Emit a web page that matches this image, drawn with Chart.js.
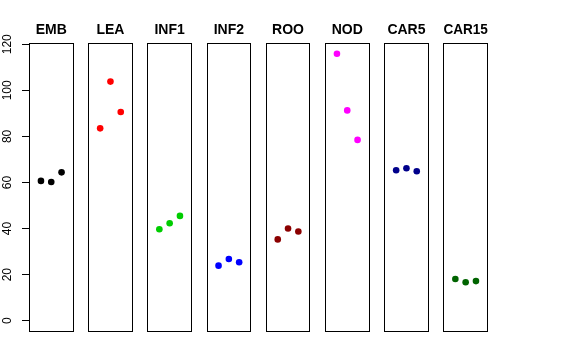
<!DOCTYPE html>
<html>
<head>
<meta charset="utf-8">
<script src="https://cdn.jsdelivr.net/npm/chart.js@4/dist/chart.umd.min.js"></script>
<style>
  body { margin: 0; background: #fff; }
  #wrap { position: relative; width: 576px; height: 360px; }
  #wrap canvas { position: absolute; top: 0; }
</style>
</head>
<body>
<div id="wrap"></div>
<script>
// groups and their colours
const groups = ["EMB", "LEA", "INF1", "INF2", "ROO", "NOD", "CAR5", "CAR15"];
const colors = ["#000000", "#ff0000", "#00cd00", "#0000ff", "#8b0000", "#ff00ff", "#00008b", "#006400"];

// replicate index (x inside each panel)
const reps = [1, 2, 3];

// values
const emb = [60.7, 60.2, 64.4];
const lea = [83.5, 103.8, 90.6];
const inf1 = [39.7, 42.3, 45.5];
const inf2 = [23.9, 26.8, 25.4];
const roo = [35.3, 40.0, 38.7];
const nod = [115.9, 91.3, 78.5];
const car5 = [65.3, 66.2, 64.9];
const car15 = [18.1, 16.7, 17.2];
const values = [emb, lea, inf1, inf2, roo, nod, car5, car15];

const yTicks = [0, 20, 40, 60, 80, 100, 120];

// panel layout
const firstLeft = 29, pitch = 59.2, boxW = 44.5;
const H = 360, padBottom = 28.6;

// frame round each panel
const boxPlugin = {
  id: "box",
  afterDraw(chart) {
    const a = chart.chartArea, ctx = chart.ctx;
    const l = Math.round(a.left), r = Math.round(a.right);
    const t = Math.round(a.top), b = Math.round(a.bottom);
    ctx.save();
    ctx.strokeStyle = "#000";
    ctx.lineWidth = 1;
    ctx.strokeRect(l + 0.5, t + 0.5, r - l - 1, b - t);
    ctx.restore();
  }
};

const wrap = document.getElementById("wrap");

groups.forEach(function(name, i) {
  const boxLeft = firstLeft + i * pitch;
  let canvasLeft, width, padLeft, padRight;
  if (i === 0) {
    canvasLeft = 0;
    padLeft = 0;
    width = Math.ceil(boxLeft + boxW + 2);
    padRight = width - boxLeft - boxW;
  } else {
    canvasLeft = Math.floor(boxLeft) - 2;
    padLeft = boxLeft - canvasLeft;
    width = 50;
    padRight = width - padLeft - boxW;
  }

  const cv = document.createElement("canvas");
  cv.width = width;
  cv.height = H;
  cv.style.left = canvasLeft + "px";
  cv.style.width = width + "px";
  cv.style.height = H + "px";
  wrap.appendChild(cv);

  new Chart(cv, {
    type: "scatter",
    data: {
      datasets: [{
        data: reps.map((r, j) => ({ x: r, y: values[i][j] })),
        pointRadius: 3.3,
        pointBackgroundColor: colors[i],
        pointBorderWidth: 0,
        showLine: false
      }]
    },
    options: {
      responsive: false,
      animation: false,
      events: [],
      layout: {
        autoPadding: false,
        padding: { left: padLeft, right: padRight, top: 0, bottom: padBottom }
      },
      scales: {
        x: { type: "linear", display: false, min: -0.16, max: 4.16 },
        y: {
          display: i === 0,
          position: "left",
          min: -4.64,
          max: 120.64,
          afterBuildTicks: s => { s.ticks = yTicks.map(v => ({ value: v })); },
          afterFit: s => { if (i === 0) s.width = firstLeft; },
          border: { display: false },
          grid: { drawOnChartArea: false, drawTicks: true, tickLength: 7, color: "#000" },
          ticks: {
            minRotation: 90,
            maxRotation: 90,
            crossAlign: "center",
            padding: 4,
            color: "#000",
            font: { family: "Liberation Sans", size: 12 }
          }
        }
      },
      plugins: {
        legend: { display: false },
        tooltip: { enabled: false },
        title: {
          display: true,
          text: name,
          fullSize: false,
          color: "#000",
          font: { family: "Liberation Sans", size: 14, weight: "bold" },
          padding: { top: 22, bottom: 4 }
        }
      }
    },
    plugins: [boxPlugin]
  });
});
</script>
</body>
</html>
